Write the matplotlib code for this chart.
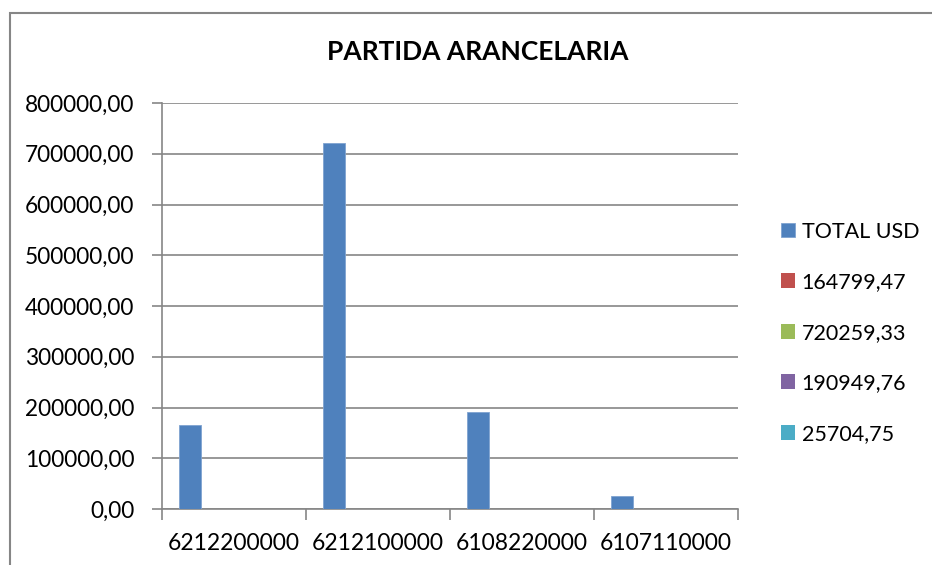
import matplotlib.pyplot as plt
from matplotlib.patches import Rectangle
from matplotlib.ticker import FuncFormatter, FixedLocator

plt.rcParams['font.family'] = ['Lato', 'DejaVu Sans']

# data
categories = ["6212200000", "6212100000", "6108220000", "6107110000"]
series_names = ["TOTAL USD", "164799,47", "720259,33", "190949,76", "25704,75"]
total_usd = [164799.47, 720259.33, 190949.76, 25704.75]
empty = [0, 0, 0, 0]
series_values = [total_usd, empty, empty, empty, empty]
colors = ["#4F81BD", "#C0504D", "#9BBB59", "#8064A2", "#4BACC6"]
y_ticks = [0, 100000, 200000, 300000, 400000, 500000, 600000, 700000, 800000]

fig = plt.figure(figsize=(9.32, 5.65), dpi=100)
ax = fig.add_axes([162 / 932, 1 - 509 / 565, (738 - 162) / 932, (509 - 103) / 565])

# chart-area border (only top/left visible in the crop)
fig.patches.append(Rectangle((10 / 932, -0.1), 1.2, 1 - 13 / 565 + 0.1, transform=fig.transFigure,
                             fill=False, edgecolor="#868686", linewidth=1.5))

n = len(series_names)
w = 1 / (n + 1.5)
x = list(range(len(categories)))
handles = []
for k, (name, vals, c) in enumerate(zip(series_names, series_values, colors)):
    pos = [i + (k - (n - 1) / 2) * w for i in x]
    b = ax.bar(pos, vals, width=w, color=c, edgecolor="#7FA3D0" if k == 0 else c,
               linewidth=0.6 if k == 0 else 0, label=name, zorder=3)
    handles.append(b)

ax.set_xlim(-0.5, len(categories) - 0.5)
ax.set_ylim(0, 800000)
ax.set_yticks(y_ticks)
ax.yaxis.set_major_formatter(FuncFormatter(lambda v, p: f"{v:.2f}".replace(".", ",")))
ax.grid(axis="y", color="#868686", linewidth=1.2, zorder=0)

ax.set_xticks(x)
ax.set_xticklabels(categories)
ax.xaxis.set_minor_locator(FixedLocator([i - 0.5 for i in range(len(categories) + 1)]))
ax.tick_params(axis="x", which="major", length=0, pad=17, labelsize=16.5)
ax.tick_params(axis="x", which="minor", length=8, width=1.2, color="#868686")
ax.tick_params(axis="y", length=7, width=1.2, color="#868686", labelsize=16.3, pad=13)

for s in ["top", "right"]:
    ax.spines[s].set_visible(False)
for s in ["left", "bottom"]:
    ax.spines[s].set_color("#868686")
    ax.spines[s].set_linewidth(1.2)

fig.text(478 / 932, 1 - 52 / 565, "PARTIDA ARANCELARIA", ha="center", va="center",
         fontsize=19, fontweight="bold")

fig.legend(handles=handles, labels=series_names, loc="upper left",
           bbox_to_anchor=(772 / 932, 1 - 213 / 565), frameon=False, fontsize=15.5,
           handlelength=0.68, handleheight=0.68, handletextpad=0.3, labelspacing=1.42,
           borderaxespad=0)

fig.savefig("out.png", dpi=100)
